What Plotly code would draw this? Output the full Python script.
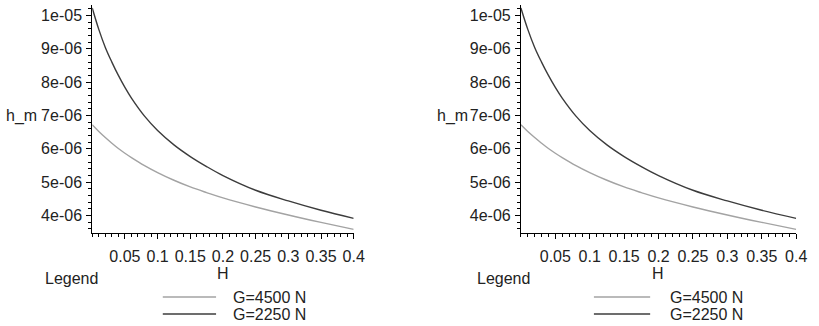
import plotly.graph_objects as go

# ---- data ----
H = [0.0, 0.01, 0.02, 0.03, 0.04, 0.05, 0.06, 0.08, 0.10, 0.125, 0.15, 0.175,
     0.20, 0.25, 0.30, 0.35, 0.40]
h_G4500 = [6.72e-06, 6.52e-06, 6.34e-06, 6.17e-06, 6.01e-06, 5.87e-06, 5.74e-06,
           5.50e-06, 5.29e-06, 5.06e-06, 4.86e-06, 4.69e-06, 4.53e-06, 4.26e-06,
           4.02e-06, 3.80e-06, 3.59e-06]
h_G2250 = [1.022e-05, 9.58e-06, 9.04e-06, 8.60e-06, 8.20e-06, 7.84e-06, 7.52e-06,
           6.98e-06, 6.55e-06, 6.12e-06, 5.77e-06, 5.47e-06, 5.20e-06, 4.76e-06,
           4.44e-06, 4.16e-06, 3.92e-06]
series_names = ["G=4500 N", "G=2250 N"]
series_colors = ["#a3a3a3", "#3c3c3c"]

x_tickvals = [0.05, 0.1, 0.15, 0.2, 0.25, 0.3, 0.35, 0.4]
x_ticktext = ["0.05", "0.1", "0.15", "0.2", "0.25", "0.3", "0.35", "0.4"]
y_tickvals = [4e-06, 5e-06, 6e-06, 7e-06, 8e-06, 9e-06, 1e-05]
y_ticktext = ["4e-06", "5e-06", "6e-06", "7e-06", "8e-06", "9e-06", "1e-05"]

W, Hpx = 819, 326
FONT = "Liberation Sans, Arial, sans-serif"
FS = 16

fig = go.Figure()

panels = [
    dict(xa="x", ya="y", xdom=(93.5, 358.5)),
    dict(xa="x2", ya="y2", xdom=(528, 807)),
]

for p in panels:
    for name, vals, col in zip(series_names, [h_G4500, h_G2250], series_colors):
        fig.add_trace(go.Scatter(x=H, y=vals, mode="lines", name=name,
                                 line=dict(color=col, width=1.4, shape="spline",
                                           smoothing=1.0),
                                 xaxis=p["xa"], yaxis=p["ya"], showlegend=False))

ydom = ((Hpx - 233) / Hpx, (Hpx - 5) / Hpx)
axis_common = dict(showline=True, linecolor="black", linewidth=1, showgrid=False,
                   zeroline=False, ticks="outside", tickcolor="black",
                   tickfont=dict(family=FONT, size=FS, color="#222"))

for i, p in enumerate(panels):
    sx = "" if i == 0 else "2"
    fig.update_layout(**{
        "xaxis" + sx: dict(axis_common, domain=[p["xdom"][0] / W, p["xdom"][1] / W],
                           range=[0, 0.4], tickvals=x_tickvals, ticktext=x_ticktext,
                           ticklen=5, tickwidth=1, ticklabelstandoff=4, tickangle=0,
                           anchor="y" + sx,
                           minor=dict(dtick=0.01, tick0=0, ticks="outside", ticklen=3,
                                      tickcolor="black", showgrid=False)),
        "yaxis" + sx: dict(axis_common, domain=list(ydom), range=[3.48e-06, 1.031e-05],
                           tickvals=y_tickvals, ticktext=y_ticktext, ticklen=5,
                           tickwidth=1, anchor="x" + sx, ticklabelstandoff=1,
                           minor=dict(dtick=2e-07, tick0=0, ticks="outside", ticklen=3,
                                      tickcolor="black", showgrid=False)),
    })

annotations = []
shapes = []
offsets = [0, 437]
for off in offsets:
    def ann(text, x, y, xanchor):
        annotations.append(dict(text=text, x=(x + off) / W, y=(Hpx - y) / Hpx,
                                xref="paper", yref="paper", xanchor=xanchor,
                                yanchor="middle", showarrow=False,
                                font=dict(family=FONT, size=FS, color="#222")))
    ann("h_m", 4, 116, "left")
    ann("H", 226 + (4 if off else 0), 273, "center")
    ann("Legend", 44, 278, "left")
    for k, (name, col) in enumerate(zip(series_names, series_colors)):
        yy = 297 + 17 * k
        shapes.append(dict(type="line", xref="paper", yref="paper",
                           x0=(165 + off) / W, x1=(219 + off + (3 if off else 0)) / W,
                           y0=(Hpx - yy) / Hpx, y1=(Hpx - yy) / Hpx,
                           line=dict(color=col, width=1.4)))
        ann(name, 234 + (6 if off else 0), yy, "left")

fig.update_layout(width=W, height=Hpx, margin=dict(l=0, r=0, t=0, b=0),
                  paper_bgcolor="white", plot_bgcolor="white",
                  annotations=annotations, shapes=shapes, showlegend=False)

fig.write_html("out.html")
